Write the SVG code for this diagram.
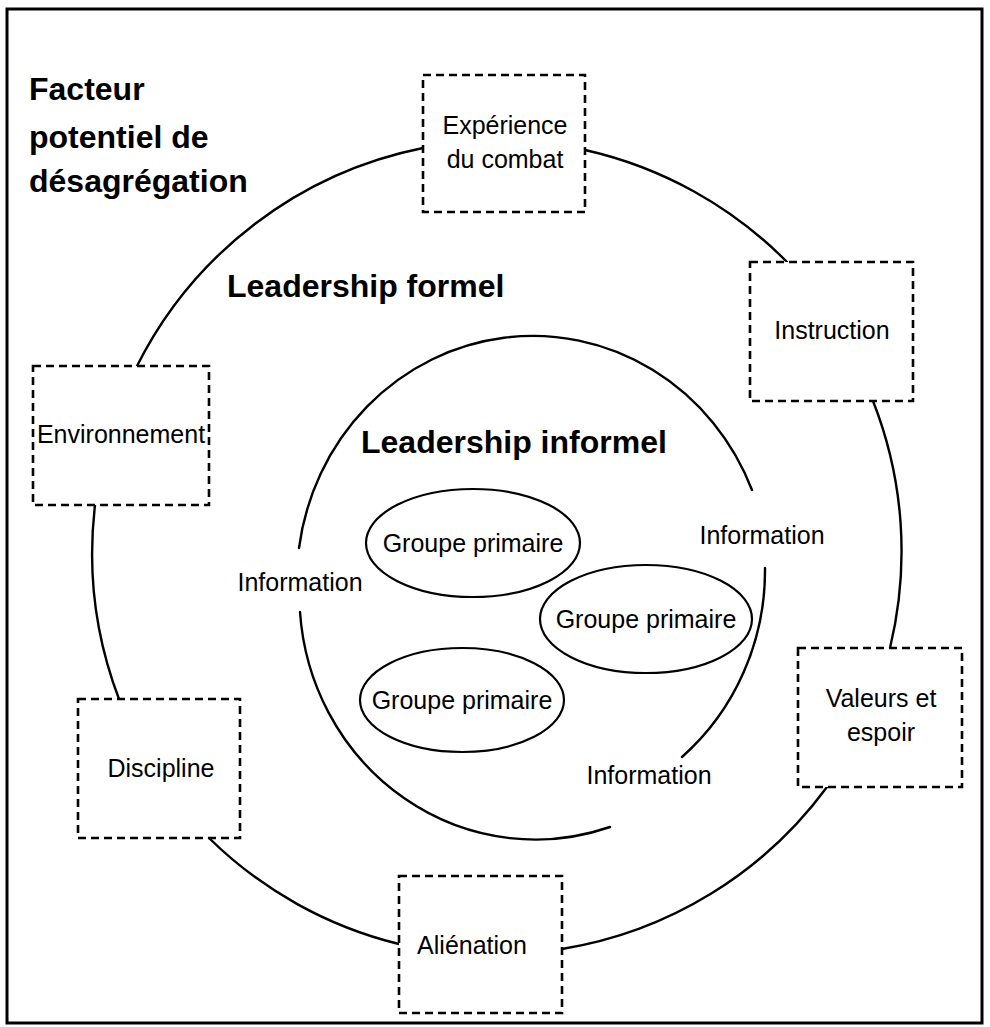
<svg xmlns="http://www.w3.org/2000/svg" width="990" height="1027" viewBox="0 0 990 1027">
  <style>
    .frame { fill: none; stroke: #000; stroke-width: 3; }
    .ring { fill: none; stroke: #000; stroke-width: 2.4; stroke-linecap: round; }
    .box { fill: #fff; stroke: #000; stroke-width: 2.6; stroke-dasharray: 8 5; }
    .group { fill: #fff; stroke: #000; stroke-width: 2.2; }
    .label { font-family: "Liberation Sans", Arial, sans-serif; font-size: 25px; fill: #000; text-anchor: middle; }
    .head { font-family: "Liberation Sans", Arial, sans-serif; font-size: 32px; font-weight: bold; fill: #000; }
  </style>
  <rect width="990" height="1027" fill="#fff"/>
  <rect class="frame" x="7" y="9" width="975" height="1014"/>

  <!-- outer ring (formal leadership) and inner ring (informal leadership) -->
  <g id="connectors">
    <path class="ring" d="M585,150 A410,410 0 0 1 787,262"/>
    <path class="ring" d="M873,401 A410,410 0 0 1 890,648"/>
    <path class="ring" d="M827,787 A410,410 0 0 1 562,949"/>
    <path class="ring" d="M399,944 A410,410 0 0 1 209,838"/>
    <path class="ring" d="M119,699 A410,410 0 0 1 95,505"/>
    <path class="ring" d="M137,366 A410,410 0 0 1 423,148"/>

    <path class="ring" d="M299,548 A236,245 0 0 1 752,490"/>
    <path class="ring" d="M765,568 A236,245 0 0 1 682,757"/>
    <path class="ring" d="M610,827 A236,245 0 0 1 300,612"/>
  </g>

  <g id="title">
    <text class="head" x="29" y="100">Facteur</text>
    <text class="head" x="29" y="148">potentiel de</text>
    <text class="head" x="29" y="192">désagrégation</text>
  </g>
  <text class="head" x="227" y="297">Leadership formel</text>
  <text class="head" x="361" y="453">Leadership informel</text>

  <g id="experience">
    <rect class="box" x="423" y="75" width="162" height="137"/>
    <text class="label" x="505" y="134">Expérience</text>
    <text class="label" x="505" y="168">du combat</text>
  </g>
  <g id="instruction">
    <rect class="box" x="750" y="262" width="163" height="139"/>
    <text class="label" x="832" y="339">Instruction</text>
  </g>
  <g id="environnement">
    <rect class="box" x="33" y="366" width="176" height="139"/>
    <text class="label" x="121" y="443">Environnement</text>
  </g>
  <g id="valeurs">
    <rect class="box" x="798" y="648" width="164" height="139"/>
    <text class="label" x="881" y="707">Valeurs et</text>
    <text class="label" x="881" y="741">espoir</text>
  </g>
  <g id="discipline">
    <rect class="box" x="78" y="699" width="162" height="139"/>
    <text class="label" x="161" y="777">Discipline</text>
  </g>
  <g id="alienation">
    <rect class="box" x="399" y="876" width="163" height="137"/>
    <text class="label" x="472" y="954">Aliénation</text>
  </g>

  <g id="groupe1">
    <ellipse class="group" cx="473" cy="543" rx="107" ry="54"/>
    <text class="label" x="473" y="552">Groupe primaire</text>
  </g>
  <g id="groupe2">
    <ellipse class="group" cx="646" cy="619" rx="106" ry="54"/>
    <text class="label" x="646" y="628">Groupe primaire</text>
  </g>
  <g id="groupe3">
    <ellipse class="group" cx="462" cy="700" rx="102" ry="52"/>
    <text class="label" x="462" y="709">Groupe primaire</text>
  </g>

  <g id="information">
    <text class="label" x="300" y="591">Information</text>
    <text class="label" x="762" y="544">Information</text>
    <text class="label" x="649" y="784">Information</text>
  </g>
</svg>
